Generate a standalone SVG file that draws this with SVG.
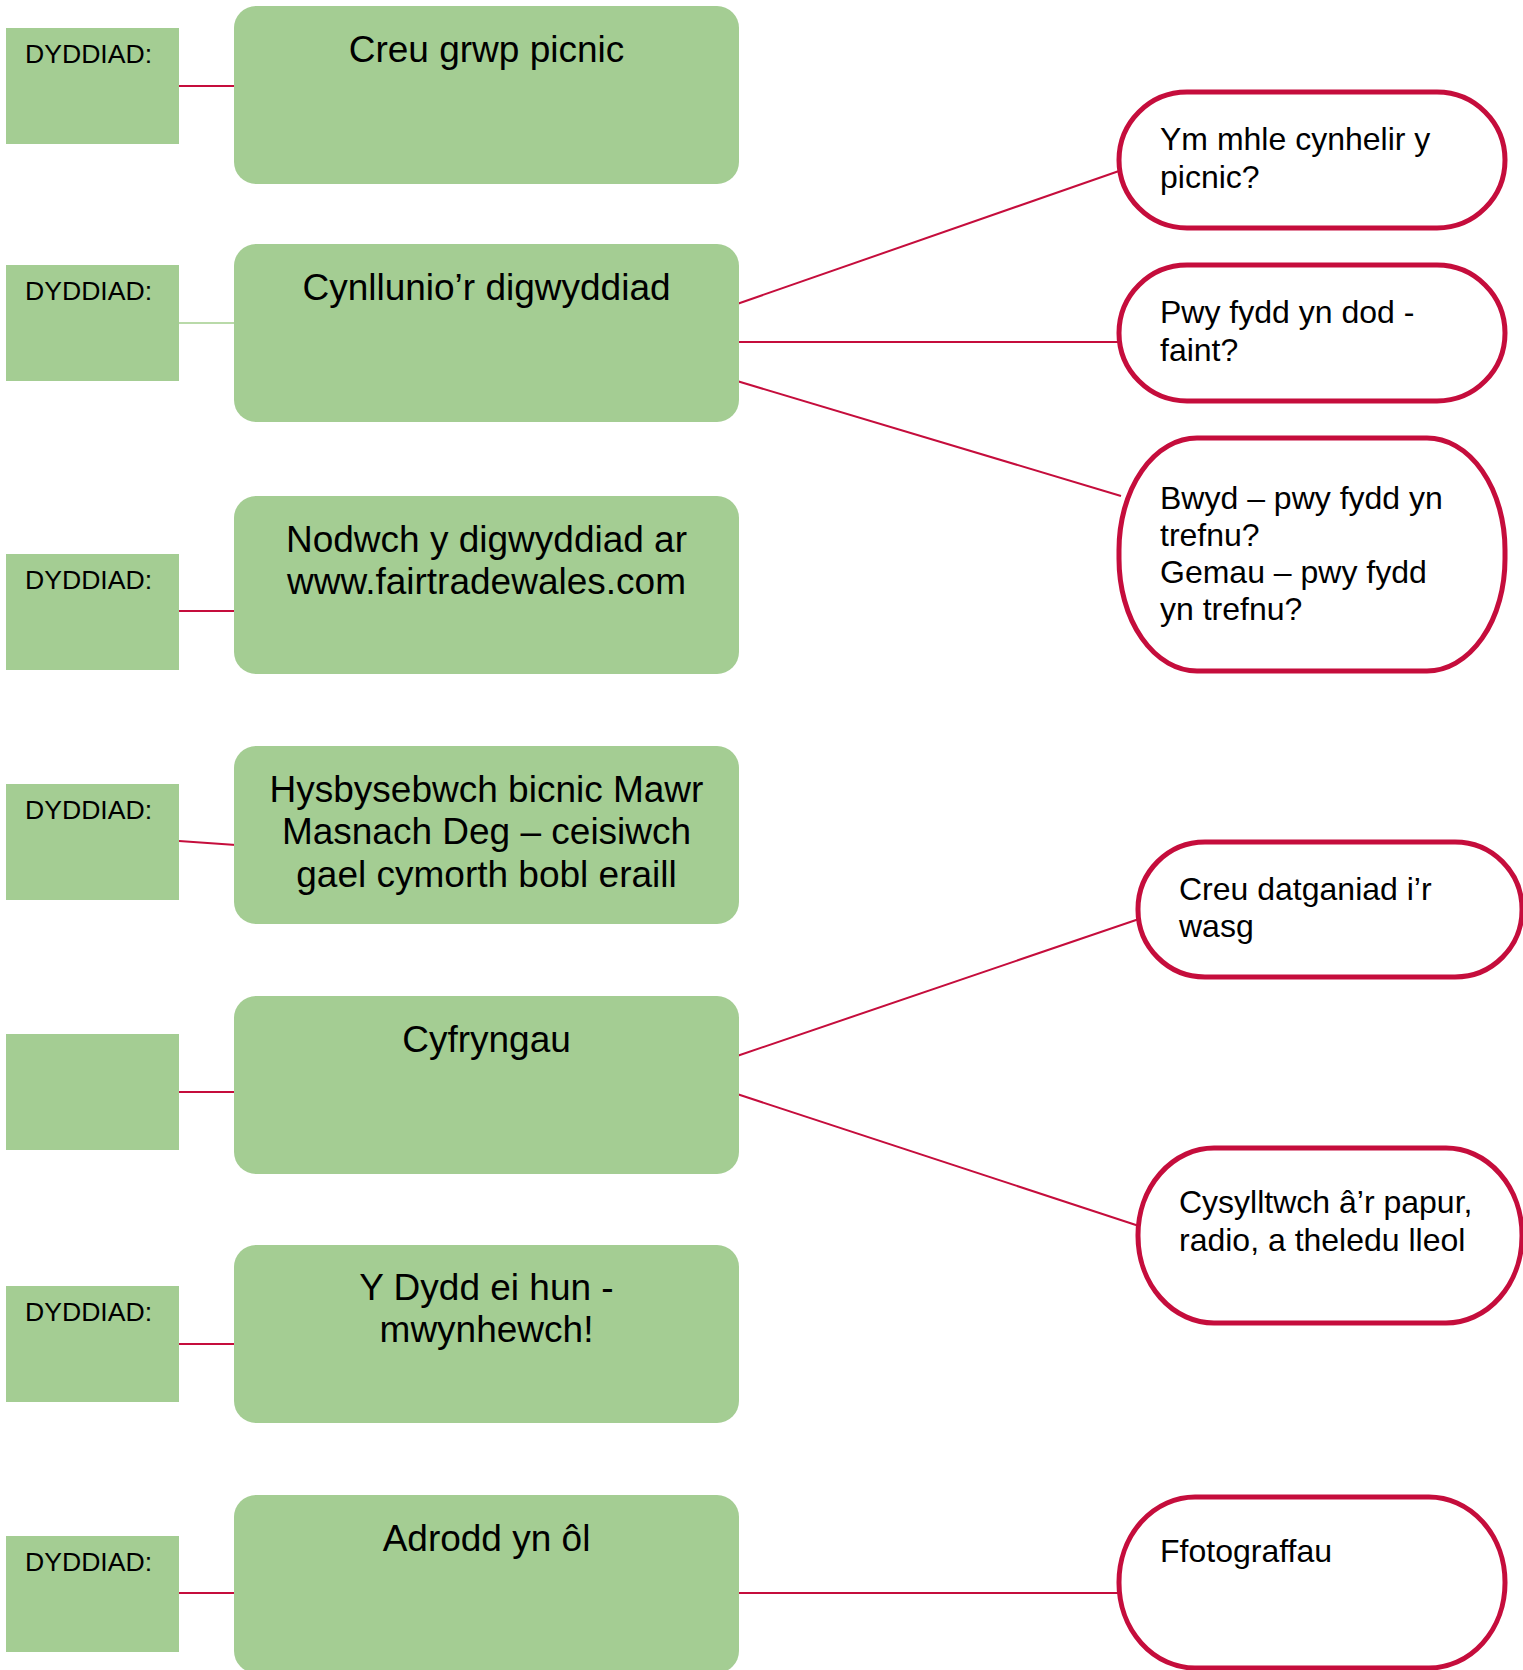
<svg xmlns="http://www.w3.org/2000/svg" width="1523" height="1670" viewBox="0 0 1523 1670">
<style>
.date{fill:#a4cd93}
.task{fill:#a4cd93}
.pill{fill:#ffffff;stroke:#c50d3c;stroke-width:5}
.dt{font-family:"Liberation Sans",Arial,sans-serif;font-size:26.6px;fill:#000}
.tt{font-family:"Liberation Sans",Arial,sans-serif;font-size:37px;fill:#000;text-anchor:middle}
.pt{font-family:"Liberation Sans",Arial,sans-serif;font-size:32px;fill:#000}
.c{stroke:#c50d3c;stroke-width:2;fill:none}
.cg{stroke:#b9daa9;stroke-width:2;fill:none}
</style>
<rect width="1523" height="1670" fill="#ffffff"/>
<g id="connectors">
<line class="c" x1="179" y1="86" x2="234" y2="86"/>
<line class="cg" x1="179" y1="323" x2="234" y2="323"/>
<line class="c" x1="179" y1="611" x2="234" y2="611"/>
<line class="c" x1="179" y1="841" x2="236" y2="845"/>
<line class="c" x1="179" y1="1092" x2="234" y2="1092"/>
<line class="c" x1="179" y1="1344" x2="234" y2="1344"/>
<line class="c" x1="179" y1="1593" x2="234" y2="1593"/>
<line class="c" x1="737" y1="304" x2="1119" y2="171"/>
<line class="c" x1="737" y1="342" x2="1119" y2="342"/>
<line class="c" x1="737" y1="381" x2="1121" y2="496"/>
<line class="c" x1="737" y1="1056" x2="1139" y2="919"/>
<line class="c" x1="737" y1="1094" x2="1139" y2="1226"/>
<line class="c" x1="737" y1="1593" x2="1119" y2="1593"/>
</g>
<g id="date1"><rect class="date" x="6" y="28" width="173" height="116"/><text class="dt" x="25" y="63">DYDDIAD:</text></g>
<g id="date2"><rect class="date" x="6" y="265" width="173" height="116"/><text class="dt" x="25" y="300">DYDDIAD:</text></g>
<g id="date3"><rect class="date" x="6" y="554" width="173" height="116"/><text class="dt" x="25" y="589">DYDDIAD:</text></g>
<g id="date4"><rect class="date" x="6" y="784" width="173" height="116"/><text class="dt" x="25" y="819">DYDDIAD:</text></g>
<g id="date5"><rect class="date" x="6" y="1034" width="173" height="116"/></g>
<g id="date6"><rect class="date" x="6" y="1286" width="173" height="116"/><text class="dt" x="25" y="1321">DYDDIAD:</text></g>
<g id="date7"><rect class="date" x="6" y="1536" width="173" height="116"/><text class="dt" x="25" y="1571">DYDDIAD:</text></g>
<g id="task1"><rect class="task" x="234" y="6" width="505" height="178" rx="22"/><text class="tt" x="486.5" y="62">Creu grwp picnic</text></g>
<g id="task2"><rect class="task" x="234" y="244" width="505" height="178" rx="22"/><text class="tt" x="486.5" y="300">Cynllunio’r digwyddiad</text></g>
<g id="task3"><rect class="task" x="234" y="496" width="505" height="178" rx="22"/><text class="tt" x="486.5" y="552">Nodwch y digwyddiad ar</text><text class="tt" x="486.5" y="594">www.fairtradewales.com</text></g>
<g id="task4"><rect class="task" x="234" y="746" width="505" height="178" rx="22"/><text class="tt" x="486.5" y="802">Hysbysebwch bicnic Mawr</text><text class="tt" x="486.5" y="844">Masnach Deg – ceisiwch</text><text class="tt" x="486.5" y="887">gael cymorth bobl eraill</text></g>
<g id="task5"><rect class="task" x="234" y="996" width="505" height="178" rx="22"/><text class="tt" x="486.5" y="1052">Cyfryngau</text></g>
<g id="task6"><rect class="task" x="234" y="1245" width="505" height="178" rx="22"/><text class="tt" x="486.5" y="1300">Y Dydd ei hun -</text><text class="tt" x="486.5" y="1342">mwynhewch!</text></g>
<g id="task7"><rect class="task" x="234" y="1495" width="505" height="178" rx="22"/><text class="tt" x="486.5" y="1551">Adrodd yn ôl</text></g>
<g id="q1"><rect class="pill" x="1119" y="92" width="386" height="136" rx="68"/><text class="pt" x="1160" y="150">Ym mhle cynhelir y</text><text class="pt" x="1160" y="188">picnic?</text></g>
<g id="q2"><rect class="pill" x="1119" y="265" width="386" height="136" rx="68"/><text class="pt" x="1160" y="323">Pwy fydd yn dod -</text><text class="pt" x="1160" y="361">faint?</text></g>
<g id="q3"><rect class="pill" x="1119" y="438" width="386" height="233" rx="78" ry="112"/><text class="pt" x="1160" y="509">Bwyd – pwy fydd yn</text><text class="pt" x="1160" y="546">trefnu?</text><text class="pt" x="1160" y="583">Gemau – pwy fydd</text><text class="pt" x="1160" y="620">yn trefnu?</text></g>
<g id="m1"><rect class="pill" x="1138" y="842" width="384" height="135" rx="67"/><text class="pt" x="1179" y="900">Creu datganiad i’r</text><text class="pt" x="1179" y="937">wasg</text></g>
<g id="m2"><rect class="pill" x="1138" y="1148" width="384" height="175" rx="76" ry="87"/><text class="pt" x="1179" y="1213">Cysylltwch â’r papur,</text><text class="pt" x="1179" y="1251">radio, a theledu lleol</text></g>
<g id="r1"><rect class="pill" x="1119" y="1497" width="386" height="171" rx="76" ry="85"/><text class="pt" x="1160" y="1562">Ffotograffau</text></g>
</svg>
